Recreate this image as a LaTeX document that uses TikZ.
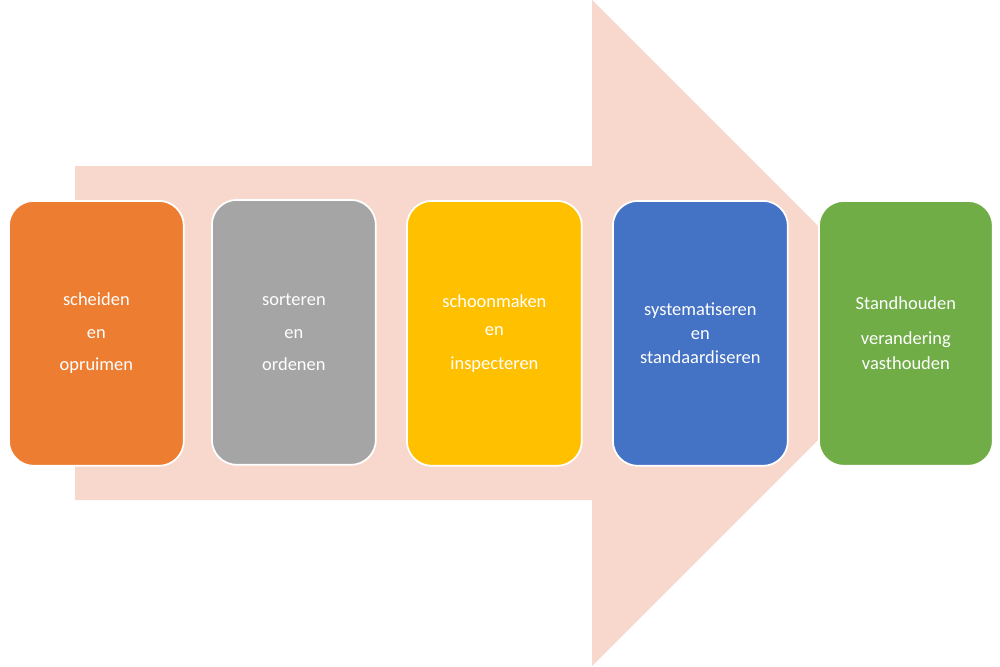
\documentclass[tikz,border=0pt]{standalone}
\usepackage{fontspec}
\setmainfont{Carlito}
\definecolor{arr}{HTML}{F8D8CC}
\definecolor{c1}{HTML}{ED7D31}
\definecolor{c2}{HTML}{A5A5A5}
\definecolor{c3}{HTML}{FFC000}
\definecolor{c4}{HTML}{4472C4}
\definecolor{c5}{HTML}{70AD47}
\begin{document}
\begin{tikzpicture}[x=0.02cm,y=-0.02cm,
  box/.style={draw=white,line width=1pt,rounded corners=0.5cm,minimum width=3.5cm,minimum height=5.3cm,anchor=north west,text=white,align=center,font=\fontsize{10.5}{18.5}\selectfont}]
\useasboundingbox (0,0) rectangle (1000,666);
\fill[arr] (75,166) -- (592,166) -- (592,0) -- (925,333) -- (592,666) -- (592,500) -- (75,500) -- cycle;
\node[box,fill=c1,minimum width=3.5cm] (a) at (8,200) {scheiden\\en\\opruimen};
\node[box,fill=c2,minimum width=3.28cm] (b) at (211,199) {sorteren\\en\\ordenen};
\node[box,fill=c3,font=\fontsize{10.5}{16}\selectfont] (c) at (406,200) {schoonmaken\\en\\[3pt]inspecteren};
\node[box,fill=c4,font=\fontsize{10.5}{13.5}\selectfont] (d) at (612,200) {systematiseren\\en\\standaardiseren};
\node[box,fill=c5,minimum width=3.48cm,font=\fontsize{10.5}{14}\selectfont] (e) at (818,200) {Standhouden\\[6pt]verandering\\vasthouden};
\end{tikzpicture}
\end{document}
